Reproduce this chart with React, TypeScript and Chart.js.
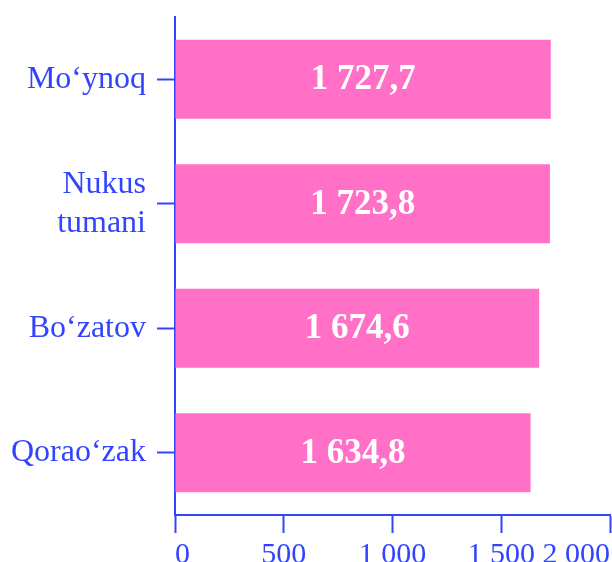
import React, { useEffect, useRef } from "react";
import { Chart, registerables } from "chart.js";

Chart.register(...registerables);

const categories: (string | string[])[] = ["Mo‘ynoq", ["Nukus", "tumani"], "Bo‘zatov", "Qorao‘zak"];
const values: number[] = [1727.7, 1723.8, 1674.6, 1634.8];
const xTicks: number[] = [0, 500, 1000, 1500, 2000];

const PINK = "rgb(255,112,198)";
const BLUE = "rgb(51,68,255)";
const SERIF = "'Liberation Serif', 'Times New Roman', serif";

function fmtThousands(v: number): string {
  const s = Math.round(v).toString();
  return s.replace(/\B(?=(\d{3})+(?!\d))/g, " ");
}
function fmtValue(v: number): string {
  const [i, d] = v.toFixed(1).split(".");
  return i.replace(/\B(?=(\d{3})+(?!\d))/g, " ") + "," + d;
}

const labelPlugin = {
  id: "barLabels",
  afterDatasetsDraw(chart: any) {
    const ctx = chart.ctx;
    const meta = chart.getDatasetMeta(0);
    ctx.save();
    ctx.fillStyle = "#ffffff";
    ctx.font = `bold 35px ${SERIF}`;
    ctx.textAlign = "center";
    ctx.textBaseline = "middle";
    meta.data.forEach((el: any, i: number) => {
      const cx = (el.x + el.base) / 2;
      ctx.fillText(fmtValue(values[i]), cx, el.y + 1);
    });
    ctx.restore();
  },
};

export default function App() {
  const ref = useRef<HTMLCanvasElement | null>(null);
  useEffect(() => {
    if (!ref.current) return;
    const chart = new Chart(ref.current, {
      type: "bar",
      data: {
        labels: categories as any,
        datasets: [
          {
            data: values,
            backgroundColor: PINK,
            borderWidth: 0,
            barPercentage: 0.635,
            categoryPercentage: 1,
          },
        ],
      },
      options: {
        indexAxis: "y",
        responsive: false,
        animation: false,
        devicePixelRatio: 1,
        layout: { padding: { top: 17, right: 2, left: 0, bottom: 0 } },
        plugins: { legend: { display: false }, tooltip: { enabled: false } },
        scales: {
          x: {
            min: 0,
            max: 2000,
            afterBuildTicks: (scale: any) => {
              scale.ticks = xTicks.map((v) => ({ value: v }));
            },
            afterFit: (scale: any) => {
              scale.height = 47;
              scale.paddingLeft = 0;
              scale.paddingRight = 0;
            },
            grid: {
              drawOnChartArea: false,
              drawTicks: true,
              tickLength: 18,
              tickWidth: 2,
              tickColor: BLUE,
              color: BLUE,
            },
            border: { display: true, color: BLUE, width: 2 },
            ticks: {
              autoSkip: false,
              maxRotation: 0,
              align: "inner",
              padding: 4,
              color: BLUE,
              font: { family: SERIF, size: 30 },
              callback: (v: any) => fmtThousands(Number(v)),
            },
          },
          y: {
            afterFit: (scale: any) => {
              scale.width = 175;
              scale.paddingTop = 0;
              scale.paddingBottom = 0;
            },
            grid: {
              offset: false,
              drawOnChartArea: false,
              drawTicks: true,
              tickLength: 18,
              tickWidth: 2,
              tickColor: BLUE,
              color: BLUE,
            },
            border: { display: true, color: BLUE, width: 2 },
            ticks: {
              padding: 11,
              color: BLUE,
              font: { family: SERIF, size: 32, lineHeight: 1.22 },
            },
          },
        },
      },
      plugins: [labelPlugin],
    });
    return () => chart.destroy();
  }, []);
  return (
    <div style={{ position: "fixed", left: 0, top: 0, width: 612, height: 562, background: "#fff" }}>
      <canvas ref={ref} width={612} height={562} />
    </div>
  );
}
